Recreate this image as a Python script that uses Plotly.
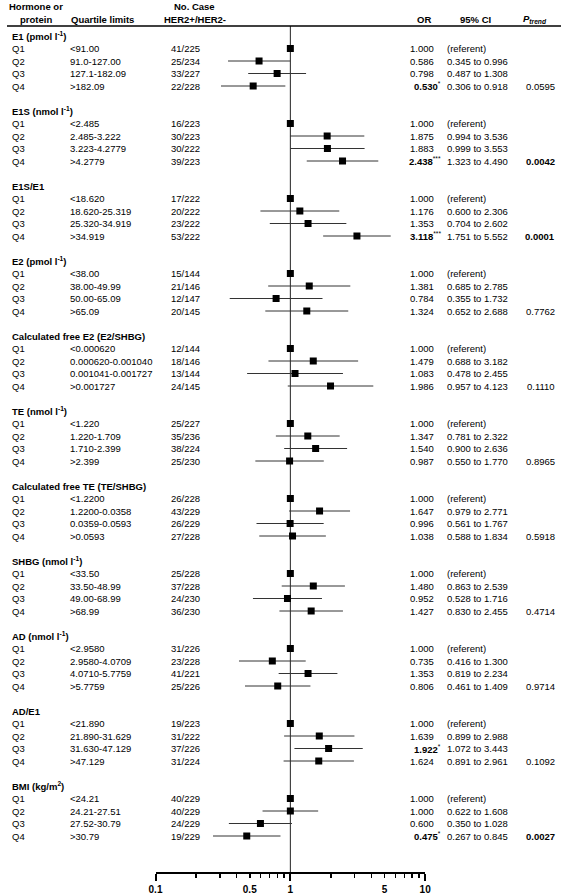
import plotly.graph_objects as go

# ---------------- data ----------------
groups = ["E1 (pmol l<sup>-1</sup>)", "E1S (nmol l<sup>-1</sup>)", "E1S/E1",
          "E2 (pmol l<sup>-1</sup>)", "Calculated free E2 (E2/SHBG)",
          "TE (nmol l<sup>-1</sup>)", "Calculated free TE (TE/SHBG)",
          "SHBG (nmol l<sup>-1</sup>)", "AD (nmol l<sup>-1</sup>)", "AD/E1",
          "BMI (kg/m<sup>2</sup>)"]
quartiles = ["Q1", "Q2", "Q3", "Q4"]
limits = [
    ["<91.00", "91.0-127.00", "127.1-182.09", ">182.09"],
    ["<2.485", "2.485-3.222", "3.223-4.2779", ">4.2779"],
    ["<18.620", "18.620-25.319", "25.320-34.919", ">34.919"],
    ["<38.00", "38.00-49.99", "50.00-65.09", ">65.09"],
    ["<0.000620", "0.000620-0.001040", "0.001041-0.001727", ">0.001727"],
    ["<1.220", "1.220-1.709", "1.710-2.399", ">2.399"],
    ["<1.2200", "1.2200-0.0358", "0.0359-0.0593", ">0.0593"],
    ["<33.50", "33.50-48.99", "49.00-68.99", ">68.99"],
    ["<2.9580", "2.9580-4.0709", "4.0710-5.7759", ">5.7759"],
    ["<21.890", "21.890-31.629", "31.630-47.129", ">47.129"],
    ["<24.21", "24.21-27.51", "27.52-30.79", ">30.79"],
]
cases = [
    ["41/225", "25/234", "33/227", "22/228"],
    ["16/223", "30/223", "30/222", "39/223"],
    ["17/222", "20/222", "23/222", "53/222"],
    ["15/144", "21/146", "12/147", "20/145"],
    ["12/144", "18/146", "13/144", "24/145"],
    ["25/227", "35/236", "38/224", "25/230"],
    ["26/228", "43/229", "26/229", "27/228"],
    ["25/228", "37/228", "24/230", "36/230"],
    ["31/226", "23/228", "41/221", "25/226"],
    ["19/223", "31/222", "37/226", "31/224"],
    ["40/229", "40/229", "24/229", "19/229"],
]
odds = [
    [1.000, 0.586, 0.798, 0.530],
    [1.000, 1.875, 1.883, 2.438],
    [1.000, 1.176, 1.353, 3.118],
    [1.000, 1.381, 0.784, 1.324],
    [1.000, 1.479, 1.083, 1.986],
    [1.000, 1.347, 1.540, 0.987],
    [1.000, 1.647, 0.996, 1.038],
    [1.000, 1.480, 0.952, 1.427],
    [1.000, 0.735, 1.353, 0.806],
    [1.000, 1.639, 1.922, 1.624],
    [1.000, 1.000, 0.600, 0.475],
]
ci_low = [
    [None, 0.345, 0.487, 0.306],
    [None, 0.994, 0.999, 1.323],
    [None, 0.600, 0.704, 1.751],
    [None, 0.685, 0.355, 0.652],
    [None, 0.688, 0.478, 0.957],
    [None, 0.781, 0.900, 0.550],
    [None, 0.979, 0.561, 0.588],
    [None, 0.863, 0.528, 0.830],
    [None, 0.416, 0.819, 0.461],
    [None, 0.899, 1.072, 0.891],
    [None, 0.622, 0.350, 0.267],
]
ci_high = [
    [None, 0.996, 1.308, 0.918],
    [None, 3.536, 3.553, 4.490],
    [None, 2.306, 2.602, 5.552],
    [None, 2.785, 1.732, 2.688],
    [None, 3.182, 2.455, 4.123],
    [None, 2.322, 2.636, 1.770],
    [None, 2.771, 1.767, 1.834],
    [None, 2.539, 1.716, 2.455],
    [None, 1.300, 2.234, 1.409],
    [None, 2.988, 3.443, 2.961],
    [None, 1.608, 1.028, 0.845],
]
stars = [
    ["", "", "", "*"],
    ["", "", "", "***"],
    ["", "", "", "***"],
    ["", "", "", ""],
    ["", "", "", ""],
    ["", "", "", ""],
    ["", "", "", ""],
    ["", "", "", ""],
    ["", "", "", ""],
    ["", "", "*", ""],
    ["", "", "", "*"],
]
p_trend = ["0.0595", "0.0042", "0.0001", "0.7762", "0.1110", "0.8965",
           "0.5918", "0.4714", "0.9714", "0.1092", "0.0027"]
axis_ticks_major = [0.1, 1, 10]
axis_ticks_labeled_minor = [0.5, 5]
axis_ticks_minor = [0.2, 0.3, 0.4, 0.5, 0.6, 0.7, 0.8, 0.9, 2, 3, 4, 5, 6, 7, 8, 9]

# ---------------- layout helpers ----------------
W, H = 567, 896
ROW0 = 36.0      # pixel of first group label
ROW_H = 12.5     # pixel per row
AXIS_PX = 873    # pixel of bottom axis line
HEAD_LINE_PX = 26


def row_of_px(px):
    return (px - ROW0) / ROW_H


def xp(px):
    return px / W


FONT = "Liberation Sans, Arial, sans-serif"
FS = 9.5
annotations = []


def txt(x_px, row, text, anchor="left", bold=False, size=FS):
    if bold:
        text = "<b>" + text + "</b>"
    annotations.append(dict(x=xp(x_px), y=row, xref="paper", yref="y", text=text,
                            showarrow=False, xanchor=anchor, yanchor="middle",
                            font=dict(family=FONT, size=size, color="#000")))


# headers
hr1 = row_of_px(6)
hr2 = row_of_px(19)
txt(30, hr1, "Hormone or", "center", True)
txt(30, hr2, "protein", "center", True)
txt(63, hr2, "Quartile limits", "left", True)
txt(192, hr1, "No. Case", "center", True)
txt(192, hr2, "HER2+/HER2-", "center", True)
txt(427, hr2, "OR", "center", True)
txt(479, hr2, "95% CI", "center", True)
txt(540, hr2, "<i>P</i><sub><i>trend</i></sub>", "center", True)

xs, ys, ep, em = [], [], [], []
for g, name in enumerate(groups):
    base = 6 * g
    txt(3, base, name, "left", True)
    for q in range(4):
        r = base + 1 + q
        txt(3, r, quartiles[q])
        txt(62, r, limits[g][q])
        txt(166, r, cases[g][q])
        o = odds[g][q]
        s = stars[g][q]
        if s:
            txt(446, r, "<b>%.3f</b><sup>%s</sup>" % (o, s), "right")
        else:
            txt(439, r, "%.3f" % o, "right")
        lo, hi = ci_low[g][q], ci_high[g][q]
        if lo is None:
            txt(448, r, "(referent)")
            ep.append(0)
            em.append(0)
        else:
            txt(448, r, "%.3f to %.3f" % (lo, hi))
            ep.append(hi - o)
            em.append(o - lo)
        xs.append(o)
        ys.append(r)
    pv = p_trend[g]
    txt(563, base + 4, pv, "right", bold=float(pv) < 0.05)

fig = go.Figure()
# reference line at OR = 1
fig.add_trace(go.Scatter(x=[1, 1], y=[row_of_px(HEAD_LINE_PX), row_of_px(AXIS_PX)],
                         mode="lines", line=dict(color="#222", width=1),
                         hoverinfo="skip"))
fig.add_trace(go.Scatter(
    x=xs, y=ys, mode="markers",
    marker=dict(symbol="square", size=7, color="#000"),
    error_x=dict(type="data", symmetric=False, array=ep, arrayminus=em,
                 width=0, thickness=1, color="#333"),
))
# dummy trace on second x axis to activate it
fig.add_trace(go.Scatter(x=[1], y=[row_of_px(AXIS_PX)], xaxis="x2", mode="markers",
                         marker=dict(size=1, opacity=0), hoverinfo="skip"))

axis_pos = 1 - AXIS_PX / H
dom = [152 / W, 428 / W]
fig.update_layout(
    width=W, height=H, margin=dict(l=0, r=0, t=0, b=0),
    paper_bgcolor="white", plot_bgcolor="white", showlegend=False,
    annotations=annotations,
    shapes=[dict(type="line", xref="paper", yref="y", x0=0, x1=1,
                 y0=row_of_px(HEAD_LINE_PX), y1=row_of_px(HEAD_LINE_PX),
                 line=dict(color="#000", width=1.5))],
    xaxis=dict(type="log", range=[-1, 1], domain=dom, anchor="free", position=axis_pos,
               showline=True, linewidth=2, linecolor="#000", mirror=False,
               ticks="outside", ticklen=7, tickwidth=2, tickcolor="#000",
               tickvals=axis_ticks_major, ticktext=["0.1", "1", "10"],
               tickfont=dict(family=FONT, size=10, color="#000", weight="bold"),
               showgrid=False, zeroline=False,
               minor=dict(tickvals=axis_ticks_minor, ticks="outside", ticklen=4,
                          tickwidth=1.5, tickcolor="#000", showgrid=False)),
    xaxis2=dict(type="log", range=[-1, 1], overlaying="x", anchor="free",
                position=axis_pos, domain=dom, showline=False,
                ticks="outside", ticklen=4, tickwidth=1.5, tickcolor="#000",
                tickvals=axis_ticks_labeled_minor, ticktext=["0.5", "5"],
                ticklabelstandoff=3,
                tickfont=dict(family=FONT, size=10, color="#000", weight="bold"),
                showgrid=False, zeroline=False),
    yaxis=dict(range=[row_of_px(H), row_of_px(0)], domain=[0, 1], visible=False,
               showgrid=False, zeroline=False),
)

fig.write_html("out.html",
               config={"displayModeBar": False, "staticPlot": True},
               post_script="document.body.style.margin='0';"
                           "document.body.style.padding='0';"
                           "document.body.style.overflow='hidden';")
